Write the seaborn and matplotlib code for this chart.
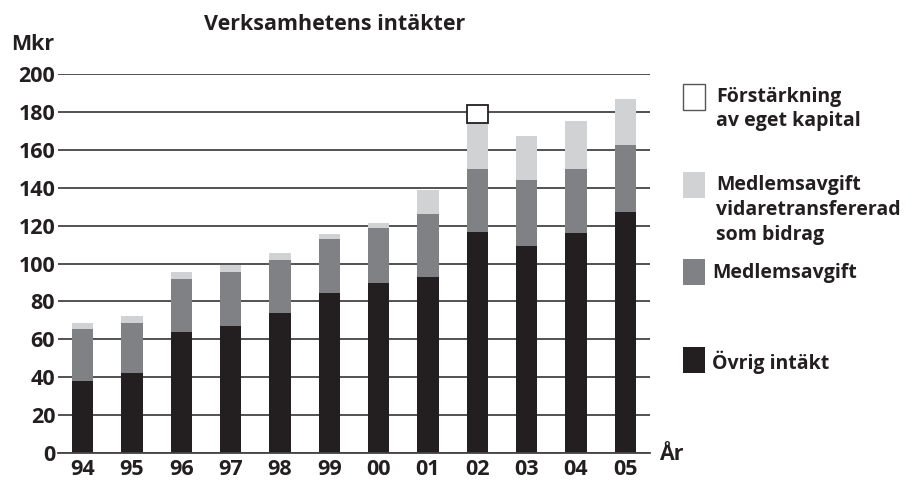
import numpy as np
import pandas as pd
import matplotlib
matplotlib.use("Agg")
import matplotlib.pyplot as plt
import seaborn as sns
from matplotlib.patches import Rectangle

sns.set_theme(style="white")
plt.rcParams["font.family"] = ["Open Sans", "DejaVu Sans"]

# data (Mkr)
years = ["94", "95", "96", "97", "98", "99", "00", "01", "02", "03", "04", "05"]
ovrig = [38.2, 42.4, 64.0, 67.2, 74.0, 84.6, 89.9, 93.0, 116.8, 109.4, 116.3, 127.4]
medlem = [27.0, 26.4, 28.0, 28.5, 28.0, 28.4, 29.0, 33.3, 33.2, 34.8, 33.7, 34.9]
vidare = [3.6, 3.7, 3.7, 3.7, 3.7, 2.8, 2.7, 12.7, 24.1, 23.3, 25.4, 24.7]
forstark = [0, 0, 0, 0, 0, 0, 0, 0, 9.5, 0, 0, 0]

labels = [
    "Förstärkning\nav eget kapital",
    "Medlemsavgift\nvidaretransfererad\nsom bidrag",
    "Medlemsavgift",
    "Övrig intäkt",
]
colors = ["#ffffff", "#d1d2d4", "#808184", "#231f20"]

df = pd.DataFrame({"year": years, "ovrig": ovrig, "medlem": medlem,
                   "vidare": vidare, "forstark": forstark})
df["b_medlem"] = df["ovrig"]
df["b_vidare"] = df["ovrig"] + df["medlem"]
df["b_forstark"] = df["b_vidare"] + df["vidare"]

fig = plt.figure(figsize=(9.06, 4.84), dpi=100)
ax = fig.add_axes([58 / 906, 31 / 484, 592 / 906, 379 / 484])

bw = 0.43
sns.barplot(data=df, x="year", y="ovrig", order=years, color=colors[3],
            width=bw, saturation=1, linewidth=0, ax=ax)
sns.barplot(data=df, x="year", y="medlem", order=years, color=colors[2],
            width=bw, saturation=1, linewidth=0, bottom=df["b_medlem"].values, ax=ax)
sns.barplot(data=df, x="year", y="vidare", order=years, color=colors[1],
            width=bw, saturation=1, linewidth=0, bottom=df["b_vidare"].values, ax=ax)
sub = df[df["forstark"] > 0]
sns.barplot(data=sub, x="year", y="forstark", order=years, color=colors[0],
            width=bw, saturation=1, linewidth=1.3, edgecolor="#231f20",
            bottom=sub["b_forstark"].values, ax=ax)

ax.set_xlim(-0.5, 11.5)
ax.set_ylim(0, 200)
ax.set_yticks(range(0, 201, 20))
ax.yaxis.grid(True, color="#444444", linewidth=1.3)
ax.set_axisbelow(True)
for s in ["top", "right", "left"]:
    ax.spines[s].set_visible(False)
ax.spines["bottom"].set_color("#444444")
ax.spines["bottom"].set_linewidth(1.3)
fs = 15.5
ax.tick_params(axis="both", length=0, labelsize=fs, colors="#231f20")
ax.tick_params(axis="y", pad=2)
ax.tick_params(axis="x", pad=4)
for t in ax.get_xticklabels() + ax.get_yticklabels():
    t.set_fontweight("bold")
ax.set_xlabel("")
ax.set_ylabel("")

tk = dict(fontsize=fs, fontweight="bold", color="#231f20")
fig.text(335 / 906, 1 - 24 / 484, "Verksamhetens intäkter", ha="center", va="center", **tk)
fig.text(11 / 906, 1 - 45 / 484, "Mkr", ha="left", va="center", **tk)
fig.text(659 / 906, 1 - 455 / 484, "År", ha="left", va="center", **tk)

# legend
lk = dict(fontsize=14, fontweight="bold", color="#231f20")
sq = [(84, 109), (172, 210), (259, 273), (347, 362)]
for (ytop, yc), lab, c in zip(sq, labels, colors):
    fig.add_artist(Rectangle((683 / 906, 1 - (ytop + 26) / 484), 22 / 906, 26 / 484,
                             transform=fig.transFigure, facecolor=c,
                             edgecolor="#555555" if c == "#ffffff" else "none",
                             linewidth=1.0))
    x0 = 716 if "\n" in lab else 712
    fig.text(x0 / 906, 1 - yc / 484, lab, ha="left", va="center",
             linespacing=1.32, **lk)

fig.savefig("out.png", dpi=100)
